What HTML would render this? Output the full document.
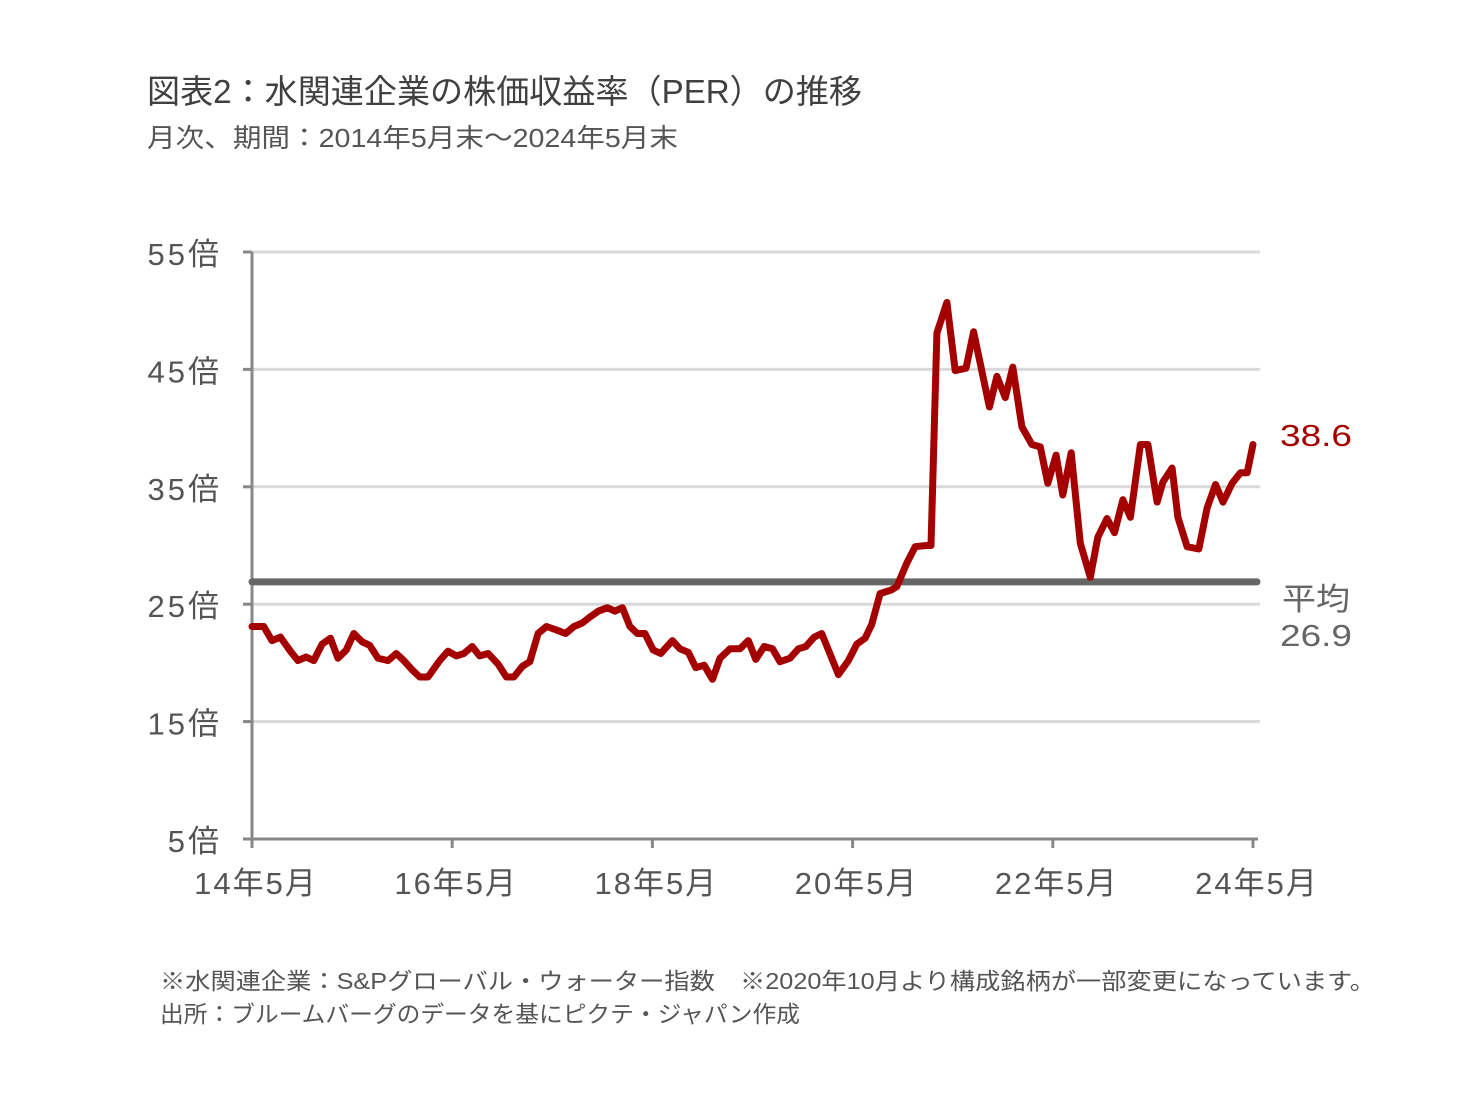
<!DOCTYPE html>
<html><head><meta charset="utf-8"><style>
html,body{margin:0;padding:0;background:#fff;}
svg{display:block;font-family:"Liberation Sans","Noto Sans CJK JP",sans-serif;}
</style></head><body>
<svg id="chart" width="1470" height="1108" viewBox="0 0 1470 1108">
<text x="147" y="103" font-size="33" fill="#404040" textLength="715" lengthAdjust="spacingAndGlyphs">図表2：水関連企業の株価収益率（PER）の推移</text>
<text x="147" y="147" font-size="26" fill="#555" textLength="531" lengthAdjust="spacingAndGlyphs">月次、期間：2014年5月末～2024年5月末</text>
<g id="grid"></g>
<g id="axes"></g>
<g id="series"></g>
<g id="labels"></g>
<text x="1280" y="446" font-size="31" fill="#a50000" textLength="72" lengthAdjust="spacingAndGlyphs">38.6</text>
<text x="1282" y="610" font-size="31" fill="#666" textLength="68" lengthAdjust="spacingAndGlyphs">平均</text>
<text x="1280" y="646" font-size="31" fill="#666" textLength="72" lengthAdjust="spacingAndGlyphs">26.9</text>
<text x="160" y="989" font-size="23" fill="#555" textLength="1215" lengthAdjust="spacingAndGlyphs">※水関連企業：S&amp;Pグローバル・ウォーター指数　※2020年10月より構成銘柄が一部変更になっています。</text>
<text x="160" y="1022" font-size="23" fill="#555" textLength="640" lengthAdjust="spacingAndGlyphs">出所：ブルームバーグのデータを基にピクテ・ジャパン作成</text>
</svg>
<script>
const months=[0,1.4,2.4,3.4,4.6,5.5,6.5,7.4,8.4,9.4,10.3,11.3,12.2,13.2,14.1,15.1,16.3,17.3,18.2,19.2,20.1,21.1,22.5,23.5,24.5,25.4,26.4,27.3,28.3,29.5,30.5,31.4,32.4,33.3,34.3,35.3,36.5,37.6,38.6,39.6,40.5,41.5,42.6,43.5,44.4,45.3,46.2,47.1,48.1,49.0,50.4,51.3,52.3,53.2,54.2,55.2,56.1,57.3,58.5,59.5,60.4,61.4,62.4,63.3,64.5,65.5,66.4,67.4,68.3,70.3,71.5,72.5,73.5,74.3,75.3,76.6,77.3,78.5,79.5,80.8,81.4,82.1,83.3,84.3,85.6,86.5,88.4,89.3,90.3,91.2,92.3,93.5,94.5,95.4,96.4,97.2,98.2,99.3,100.5,101.4,102.5,103.4,104.4,105.3,106.5,107.4,108.5,109.2,110.3,111.0,112.1,113.5,114.5,115.5,116.4,117.5,118.5,119.3,120];
const perValues=[23.1,23.1,21.9,22.2,21.0,20.2,20.5,20.2,21.6,22.1,20.4,21.1,22.5,21.8,21.5,20.4,20.2,20.8,20.2,19.4,18.8,18.8,20.2,21.0,20.6,20.8,21.4,20.6,20.8,19.9,18.8,18.8,19.7,20.1,22.5,23.1,22.8,22.5,23.1,23.4,23.9,24.4,24.7,24.4,24.7,23.1,22.5,22.5,21.1,20.8,21.9,21.2,20.9,19.6,19.8,18.6,20.4,21.2,21.2,21.9,20.3,21.4,21.2,20.1,20.4,21.2,21.4,22.2,22.5,19.0,20.2,21.6,22.1,23.3,25.9,26.2,26.5,28.5,29.9,30.0,30.0,48.1,50.7,44.9,45.1,48.2,41.8,44.4,42.6,45.2,40.1,38.6,38.4,35.3,37.7,34.3,37.9,30.2,27.3,30.7,32.3,31.1,33.9,32.4,38.6,38.6,33.7,35.4,36.6,32.4,29.9,29.7,33.2,35.2,33.7,35.3,36.2,36.2,38.6];
const averageValue=26.9;
const yTicks=[5,15,25,35,45,55];
const yTickLabels=["5倍","15倍","25倍","35倍","45倍","55倍"];
const xTicks=[0,24,48,72,96,120];
const xTickLabels=["14年5月","16年5月","18年5月","20年5月","22年5月","24年5月"];

const NS="http://www.w3.org/2000/svg";
const X0=252,X1=1253,Y0=839,Y1=252;
const xScale=m=>X0+(m/120)*(X1-X0);
const yScale=v=>Y0-((v-5)/50)*(Y0-Y1);
function mk(tag,attrs,parent){const e=document.createElementNS(NS,tag);for(const k in attrs)e.setAttribute(k,attrs[k]);parent.appendChild(e);return e;}
const grid=document.getElementById('grid'),axes=document.getElementById('axes'),series=document.getElementById('series'),labels=document.getElementById('labels');

yTicks.forEach((t,i)=>{
  const y=yScale(t);
  if(t>5){const g=mk('line',{x1:245,x2:1260,y1:y,y2:y,stroke:'#d9d9d9','stroke-width':3},grid);
  
  }
  const tk=mk('line',{x1:243,x2:252,y1:y,y2:y,stroke:'#888','stroke-width':3},axes);
  
  
  const lb=mk('text',{x:222,y:y+13,'font-size':31,fill:'#555','text-anchor':'end','letter-spacing':'3'},labels);
  lb.textContent=yTickLabels[i];
  
  
});
const ya=mk('line',{x1:X0,x2:X0,y1:Y1,y2:Y0+3,stroke:'#888','stroke-width':3},axes);


const xa=mk('line',{x1:X0,x2:1258,y1:Y0,y2:Y0,stroke:'#888','stroke-width':3},axes);


xTicks.forEach((m,i)=>{
  const x=xScale(m);
  const tk=mk('line',{x1:x,x2:x,y1:Y0,y2:Y0+9,stroke:'#888','stroke-width':3},axes);
  
  
  const lb=mk('text',{x:x+4,y:894,'font-size':31,fill:'#555','text-anchor':'middle','letter-spacing':'2'},labels);
  lb.textContent=xTickLabels[i];
  
  
});
const avg=mk('line',{x1:X0,x2:1257,y1:yScale(averageValue),y2:yScale(averageValue),stroke:'#666','stroke-width':7,'stroke-linecap':'round'},series);


const pts=months.map((m,i)=>xScale(m).toFixed(1)+','+yScale(perValues[i]).toFixed(1)).join(' ');
const pl=mk('polyline',{points:pts,fill:'none',stroke:'#a50000','stroke-width':7,'stroke-linejoin':'round','stroke-linecap':'round'},series);


</script>
</body></html>
